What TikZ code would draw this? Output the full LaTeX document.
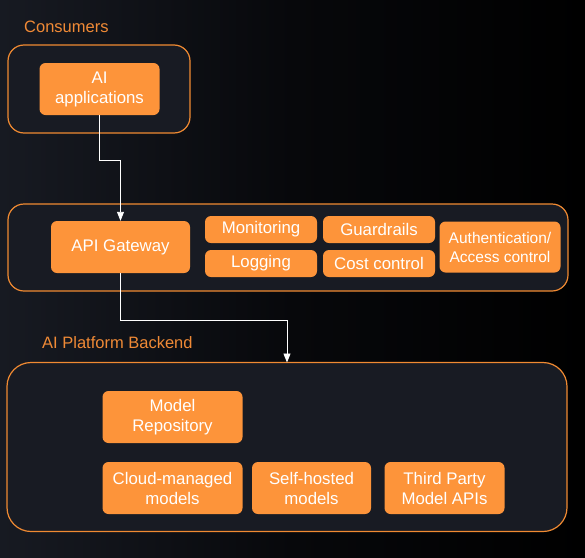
\documentclass[tikz,border=0pt]{standalone}
\usepackage{fontspec}
\setmainfont{Liberation Sans}
\usetikzlibrary{arrows.meta}
\definecolor{bgL}{HTML}{171A22}
\definecolor{bgM}{HTML}{07080B}
\definecolor{contfill}{HTML}{181B23}
\definecolor{contedge}{HTML}{F08A32}
\definecolor{boxfill}{HTML}{FD943A}
\definecolor{lbl}{HTML}{F08A36}
\tikzset{
  container/.style={draw=contedge, line width=1.2pt, fill=contfill, rounded corners=16pt},
  obox/.style={fill=boxfill, rounded corners=6pt, text=white, align=center,
    font=\fontsize{16.8}{20}\selectfont, inner sep=0pt},
  grouplabel/.style={text=lbl, font=\fontsize{16.5}{19}\selectfont, anchor=west, inner sep=0pt},
  conn/.style={draw=white, line width=0.9pt, -{Triangle[width=7pt,length=9pt]}},
}
\begin{document}
\begin{tikzpicture}[x=1pt,y=-1pt]
\useasboundingbox (0,0) rectangle (585,557);
\shade[left color=bgL, right color=black, middle color=bgM] (0,0) rectangle (585,557);

% Consumers
\node[grouplabel] (lc) at (24,27) {Consumers};
\draw[container] (8,45) rectangle (190,133);
\node[obox, minimum width=120pt, minimum height=52pt] (ai) at (99.5,89) {AI\\applications};

% Gateway layer
\draw[container] (8,204) rectangle (568,291);
\node[obox, minimum width=139pt, minimum height=52pt] (gw) at (120.5,247) {API Gateway};
\node[obox, minimum width=112pt, minimum height=27pt] (mon) at (261,229.5) {Monitoring};
\node[obox, minimum width=112pt, minimum height=27pt] (gr) at (379,229.5) {Guardrails};
\node[obox, minimum width=112pt, minimum height=27pt] (log) at (261,263.5) {Logging};
\node[obox, minimum width=112pt, minimum height=27pt] (cc) at (379,263.5) {Cost control};
\node[obox, minimum width=121pt, minimum height=51pt, font=\fontsize{15.5}{19}\selectfont] (auth) at (500,247) {Authentication/\\Access control};

% Backend
\node[grouplabel] (lb) at (42,342.5) {AI Platform Backend};
\draw[container, rounded corners=24pt] (7,362.5) rectangle (567,531.5);
\coordinate (btop) at (287,362.5);
\node[obox, minimum width=140pt, minimum height=52pt] (mr) at (172.5,417) {Model\\Repository};
\node[obox, minimum width=140pt, minimum height=52pt] (cm) at (172.5,488) {Cloud-managed\\models};
\node[obox, minimum width=119pt, minimum height=52pt] (sh) at (311.5,488) {Self-hosted\\models};
\node[obox, minimum width=120pt, minimum height=52pt] (tp) at (444.5,488) {Third Party\\Model APIs};

% Connectors
\draw[conn] (ai.south) -- ++(0,45) -| (gw.north);
\draw[conn] (gw.south) -- ++(0,47) -| (btop);
\end{tikzpicture}
\end{document}
